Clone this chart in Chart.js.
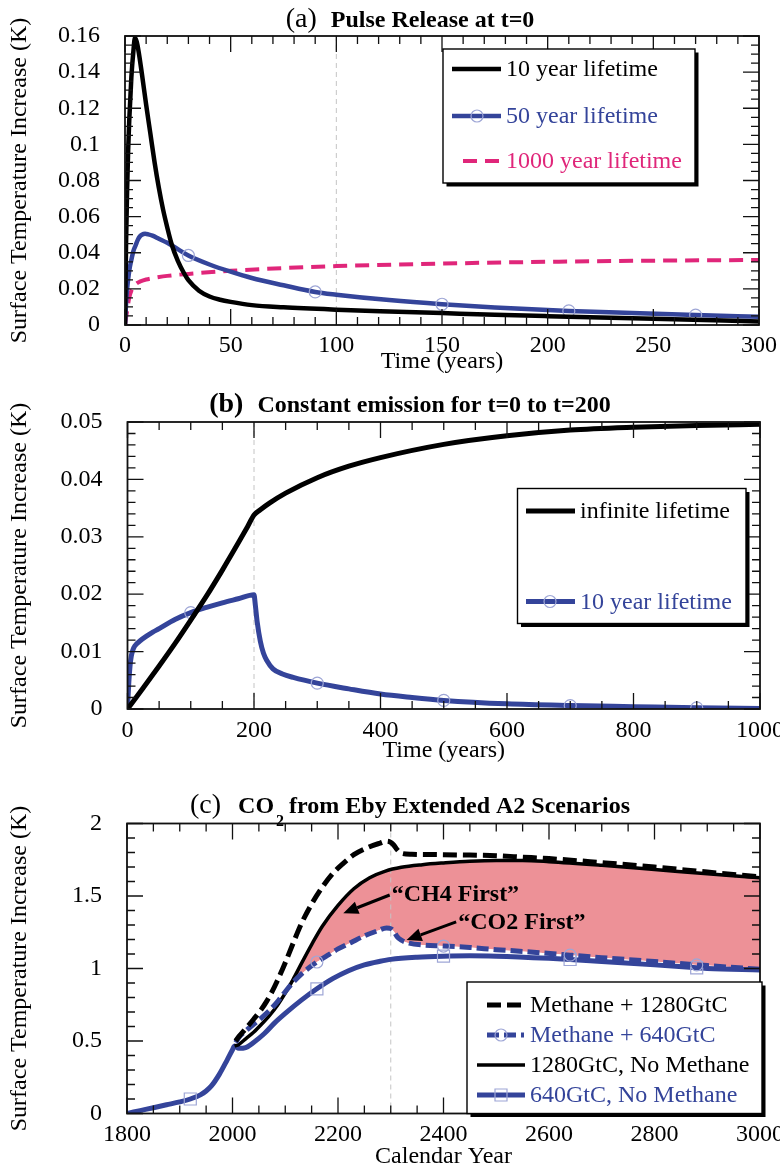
<!DOCTYPE html>
<html><head><meta charset="utf-8">
<script src="https://cdn.jsdelivr.net/npm/chart.js@4.4.1/dist/chart.umd.min.js"></script>
<style>
html,body{margin:0;padding:0;background:#fff;overflow:hidden;width:780px;height:1168px;}
canvas{position:absolute;left:0;}
</style></head><body>
<canvas id="ca" width="780" height="380" style="top:0px"></canvas>
<canvas id="cb" width="780" height="390" style="top:380px"></canvas>
<canvas id="cc" width="780" height="420" style="top:760px"></canvas>
<script>
// ---------- shared text ----------
const yAxisLabel = 'Surface Temperature Increase (K)';

// ---------- panel (a) ----------
const aTag = '(a)';
const aTitle = 'Pulse Release at t=0';
const aXLabel = 'Time (years)';
const aNames = ['10 year lifetime', '50 year lifetime', '1000 year lifetime'];
const a10Time = [0,0.5,1,1.5,2,3,4,4.7,5.5,6.5,8,10,12,14,16,18,20,22,25,28,30,35,40,45,50,60,75,100,125,150,175,200,250,300];
const a10Temp = [0,0.045,0.075,0.097,0.113,0.137,0.152,0.159,0.157,0.151,0.139,0.122,0.106,0.090,0.076,0.064,0.054,0.045,0.0355,0.0285,0.0248,0.0190,0.0158,0.0140,0.0128,0.011,0.0098,0.0085,0.0075,0.0066,0.0057,0.0049,0.0034,0.0020];
const a50Time = [0,0.5,1,2,3,4,5,6,7,8,9.5,11,13,16,20,25,30,40,50,60,75,90,100,125,150,175,210,240,270,300];
const a50Temp = [0,0.012,0.020,0.030,0.036,0.041,0.044,0.047,0.049,0.050,0.0505,0.0502,0.0495,0.0478,0.0455,0.042,0.0385,0.0335,0.0295,0.026,0.022,0.0183,0.0168,0.0138,0.0115,0.0097,0.0078,0.0066,0.0055,0.0045];
const a1000Time = [0,0.5,1,2,3,5,7,10,15,20,30,50,75,100,150,200,250,300];
const a1000Temp = [0,0.004,0.008,0.015,0.019,0.0225,0.024,0.0252,0.0263,0.0272,0.0283,0.0300,0.0315,0.0326,0.0340,0.0350,0.0356,0.0360];
const aMarkTimes = [30,90,150,210,270];
const aXTicks = [0,50,100,150,200,250,300];
const aXTickLabels = ['0','50','100','150','200','250','300'];
const aYTicks = [0,0.02,0.04,0.06,0.08,0.1,0.12,0.14,0.16];
const aYTickLabels = ['0','0.02','0.04','0.06','0.08','0.1','0.12','0.14','0.16'];
const aGuide = 100;

// ---------- panel (b) ----------
const bTag = '(b)';
const bTitle = 'Constant emission for t=0 to t=200';
const bXLabel = 'Time (years)';
const bNames = ['infinite lifetime', '10 year lifetime'];
const bInfTime = [0,25,50,75,100,125,150,175,190,200,210,225,250,300,350,400,500,600,700,800,900,1000];
const bInfTemp = [0,0.0037,0.0075,0.0114,0.0155,0.0197,0.0242,0.0289,0.0318,0.0338,0.0347,0.0359,0.0376,0.0403,0.0423,0.0438,0.0461,0.0476,0.0486,0.0491,0.0494,0.0496];
const bTenTime = [0,2,4,6,8,10,15,20,30,40,50,75,100,125,150,175,200,202,205,210,215,220,230,245,262,300,350,400,450,500,600,700,800,900,1000];
const bTenTemp = [0,0.0045,0.0075,0.0092,0.0101,0.0107,0.0114,0.0119,0.0127,0.0134,0.0140,0.0156,0.0168,0.0177,0.0185,0.0192,0.0199,0.0182,0.0152,0.0118,0.0097,0.0085,0.0070,0.0061,0.0055,0.0045,0.0035,0.0026,0.0020,0.0015,0.0009,0.0006,0.0004,0.0002,0.0001];
const bMarkTimes = [100,300,500,700,900];
const bXTicks = [0,200,400,600,800,1000];
const bXTickLabels = ['0','200','400','600','800','1000'];
const bYTicks = [0,0.01,0.02,0.03,0.04,0.05];
const bYTickLabels = ['0','0.01','0.02','0.03','0.04','0.05'];
const bGuide = 200;

// ---------- panel (c) ----------
const cTag = '(c)';
const cTitleA = 'CO';
const cTitleSub = '2';
const cTitleB = 'from Eby Extended A2 Scenarios';
const cXLabel = 'Calendar Year';
const cNames = ['Methane + 1280GtC', 'Methane + 640GtC', '1280GtC, No Methane', '640GtC, No Methane'];
const cDash1280Year = [2006,2012,2025,2040,2055,2065,2075,2085,2100,2115,2130,2150,2170,2190,2210,2230,2260,2280,2292,2300,2306,2312,2320,2340,2400,2450,2500,2550,2600,2700,2800,2900,3000];
const cDash1280Temp = [0.50,0.53,0.585,0.65,0.72,0.775,0.84,0.915,1.04,1.175,1.305,1.445,1.56,1.655,1.725,1.785,1.84,1.865,1.878,1.87,1.85,1.82,1.795,1.788,1.785,1.782,1.778,1.768,1.758,1.73,1.70,1.665,1.632];
const cDash640Year = [2006,2012,2025,2040,2055,2070,2085,2100,2115,2130,2145,2160,2180,2200,2225,2250,2275,2292,2300,2306,2312,2320,2335,2360,2400,2450,2500,2550,2640,2700,2800,2880,2900,3000];
const cDash640Temp = [0.49,0.525,0.57,0.615,0.66,0.71,0.77,0.84,0.905,0.96,1.005,1.045,1.09,1.135,1.18,1.225,1.26,1.28,1.275,1.255,1.22,1.195,1.175,1.162,1.155,1.145,1.13,1.118,1.092,1.075,1.048,1.025,1.02,0.995];
const cSolid1280Year = [2004,2012,2025,2040,2055,2070,2085,2100,2115,2130,2150,2170,2200,2230,2260,2290,2320,2360,2400,2450,2500,2550,2600,2700,2800,2900,3000];
const cSolid1280Temp = [0.465,0.476,0.515,0.56,0.615,0.675,0.745,0.83,0.925,1.03,1.165,1.29,1.435,1.55,1.626,1.672,1.698,1.716,1.728,1.74,1.745,1.745,1.737,1.712,1.683,1.653,1.625];
const cSolid640Year = [1800,1825,1850,1875,1900,1920,1940,1950,1960,1975,1990,2000,2004,2012,2025,2040,2060,2080,2100,2130,2160,2190,2220,2250,2280,2300,2350,2400,2450,2500,2600,2640,2700,2800,2880,2900,3000];
const cSolid640Temp = [0,0.02,0.04,0.06,0.08,0.10,0.13,0.155,0.19,0.27,0.37,0.44,0.465,0.45,0.455,0.49,0.55,0.625,0.69,0.78,0.86,0.93,0.985,1.025,1.05,1.063,1.078,1.085,1.088,1.085,1.07,1.062,1.048,1.025,1.005,1.0,0.99];
const cCircleYears = [2160,2400,2640,2880];
const cSquareYears = [1920,2160,2400,2640,2880];
const cXTicks = [1800,2000,2200,2400,2600,2800,3000];
const cXTickLabels = ['1800','2000','2200','2400','2600','2800','3000'];
const cYTicks = [0,0.5,1,1.5,2];
const cYTickLabels = ['0','0.5','1','1.5','2'];
const cGuide = 2300;
const cNoteTexts = ['\u201CCH4 First\u201D', '\u201CCO2 First\u201D'];
const cNoteAt = [[2302, 1.505], [2428, 1.312]];        // text anchor (year, K)
const cArrowFrom = [[2298, 1.507], [2424, 1.321]];     // arrow tail (year, K)
const cArrowTo = [[2210, 1.381], [2330, 1.197]];       // arrow tip (year, K)

// ---------- styling ----------
const FAM = '"Liberation Serif", "Times New Roman", serif';
const BLUE = '#34449a', PINK = '#e0267a', MARK = '#9ea6d6', FILL = '#ed9197', INK = '#000';
Chart.defaults.font.family = FAM;
Chart.defaults.color = INK;

const pts = (xs, ys) => xs.map((x, i) => ({x: x, y: ys[i]}));
const markR = (list, r) => (ctx) => (ctx.raw && list.indexOf(ctx.raw.x) >= 0) ? r : 0;

function drawMarker(ctx, style, x, y) {
  ctx.save();
  ctx.strokeStyle = MARK; ctx.lineWidth = 1.2; ctx.setLineDash([]);
  ctx.beginPath();
  if (style === 'rect') ctx.rect(x - 6, y - 6, 12, 12); else ctx.arc(x, y, 6, 0, Math.PI * 2);
  ctx.stroke();
  ctx.restore();
}

function decorPlugin(cfg) {
  return {
    id: 'decor',
    beforeDatasetsDraw(chart) {
      const {ctx, chartArea: ca, scales} = chart;
      const px = scales.x.getPixelForValue(cfg.guide);
      ctx.save();
      ctx.strokeStyle = '#c4c4c4'; ctx.lineWidth = 1; ctx.setLineDash([5, 4]);
      ctx.beginPath(); ctx.moveTo(px, ca.top); ctx.lineTo(px, ca.bottom); ctx.stroke();
      ctx.restore();
    },
    afterDatasetsDraw(chart) {
      const {ctx, chartArea: ca, scales} = chart;
      ctx.save();
      ctx.strokeStyle = '#111'; ctx.lineWidth = 1.3; ctx.setLineDash([]);
      ctx.beginPath();
      const tk = (scale, minor, major, horiz) => {
        const n = Math.round((scale.max - scale.min) / minor);
        for (let i = 0; i <= n; i++) {
          const v = scale.min + i * minor;
          const q = v / major;
          const len = Math.abs(q - Math.round(q)) < 1e-6 ? 16 : 8;
          const p = scale.getPixelForValue(v);
          if (horiz) {
            ctx.moveTo(p, ca.top); ctx.lineTo(p, ca.top + len);
            ctx.moveTo(p, ca.bottom); ctx.lineTo(p, ca.bottom - len);
          } else {
            ctx.moveTo(ca.left, p); ctx.lineTo(ca.left + len, p);
            ctx.moveTo(ca.right, p); ctx.lineTo(ca.right - len, p);
          }
        }
      };
      tk(scales.x, cfg.xMinor, cfg.xMajor, true);
      tk(scales.y, cfg.yMinor, cfg.yMajor, false);
      ctx.stroke();
      ctx.lineWidth = 1.8;
      ctx.strokeRect(ca.left, ca.top, ca.right - ca.left, ca.bottom - ca.top);
      ctx.restore();
    },
    afterDraw(chart) {
      const {ctx, scales} = chart;
      ctx.save();
      // title
      ctx.fillStyle = INK; ctx.textBaseline = 'alphabetic'; ctx.textAlign = 'left';
      let total = 0;
      cfg.title.forEach(p => { ctx.font = p.font; p.w = ctx.measureText(p.text).width; total += (p.gap || 0) + p.w; });
      let x = 410 - total / 2;
      cfg.title.forEach(p => { x += (p.gap || 0); ctx.font = p.font; ctx.fillText(p.text, x, cfg.titleY + (p.dy || 0)); x += p.w; });
      // notes with arrows
      (cfg.notes || []).forEach(n => {
        const tx = scales.x.getPixelForValue(n.at[0]), ty = scales.y.getPixelForValue(n.at[1]);
        const fx = scales.x.getPixelForValue(n.from[0]), fy = scales.y.getPixelForValue(n.from[1]);
        const ex = scales.x.getPixelForValue(n.to[0]), ey = scales.y.getPixelForValue(n.to[1]);
        const ang = Math.atan2(ey - fy, ex - fx);
        const hl = 15, hw = 6.5;
        const bx = ex - hl * Math.cos(ang), by = ey - hl * Math.sin(ang);
        ctx.strokeStyle = INK; ctx.fillStyle = INK; ctx.lineWidth = 3; ctx.setLineDash([]);
        ctx.beginPath(); ctx.moveTo(fx, fy); ctx.lineTo(bx, by); ctx.stroke();
        ctx.beginPath();
        ctx.moveTo(ex, ey);
        ctx.lineTo(bx + hw * Math.sin(ang), by - hw * Math.cos(ang));
        ctx.lineTo(bx - hw * Math.sin(ang), by + hw * Math.cos(ang));
        ctx.closePath(); ctx.fill();
        ctx.font = 'bold 24px ' + FAM; ctx.textBaseline = 'middle';
        ctx.fillText(n.text, tx, ty);
      });
      // legend
      const L = cfg.legend;
      ctx.setLineDash([]);
      ctx.fillStyle = '#000';
      ctx.fillRect(L.x0 + 3.5, L.y0 + 3.5, L.x1 - L.x0, L.y1 - L.y0);
      ctx.fillStyle = '#fff';
      ctx.fillRect(L.x0, L.y0, L.x1 - L.x0, L.y1 - L.y0);
      ctx.strokeStyle = '#000'; ctx.lineWidth = 1.4;
      ctx.strokeRect(L.x0, L.y0, L.x1 - L.x0, L.y1 - L.y0);
      L.rows.forEach(r => {
        const ds = chart.data.datasets[r.ds];
        ctx.save();
        ctx.beginPath(); ctx.rect(r.x0, r.y - 10, r.x1 - r.x0, 20); ctx.clip();
        ctx.strokeStyle = ds.borderColor; ctx.lineWidth = ds.borderWidth;
        ctx.setLineDash(ds.borderDash || []);
        ctx.beginPath(); ctx.moveTo(r.x0, r.y); ctx.lineTo(r.x1, r.y); ctx.stroke();
        ctx.restore();
        if (r.marker) drawMarker(ctx, r.marker, r.mx, r.y);
        ctx.font = '24px ' + FAM; ctx.textBaseline = 'middle'; ctx.textAlign = 'left';
        ctx.fillStyle = r.color;
        ctx.fillText(ds.label, r.tx, r.y + 1);
      });
      ctx.restore();
    }
  };
}

function makeChart(id, cfg) {
  return new Chart(document.getElementById(id), {
    type: 'line',
    data: {datasets: cfg.datasets},
    options: {
      responsive: false, animation: false, events: [],
      layout: {padding: {top: cfg.top, right: cfg.right, left: 0, bottom: 0}},
      plugins: {legend: {display: false}, title: {display: false}, tooltip: {enabled: false},
                filler: {drawTime: 'beforeDatasetsDraw'}},
      elements: {line: {cubicInterpolationMode: 'monotone', fill: false}, point: {radius: 0, hoverRadius: 0}},
      scales: {
        x: {
          type: 'linear', min: cfg.xTicks[0], max: cfg.xTicks[cfg.xTicks.length - 1],
          grid: {display: false, drawTicks: false}, border: {display: false},
          afterBuildTicks: s => { s.ticks = cfg.xTicks.map(v => ({value: v})); },
          afterFit: s => { s.height = cfg.xHeight; s.paddingLeft = 0; s.paddingRight = 0; },
          ticks: {autoSkip: false, maxRotation: 0, minRotation: 0, padding: cfg.xPad, font: {size: 24}, color: INK,
                  callback: (v, i) => cfg.xLabels[i]},
          title: {display: true, text: cfg.xTitle, font: {size: 24}, color: INK, padding: {top: 0, bottom: cfg.xTitlePad}}
        },
        y: {
          type: 'linear', position: 'left', min: cfg.yTicks[0], max: cfg.yTicks[cfg.yTicks.length - 1],
          grid: {display: false, drawTicks: false}, border: {display: false},
          afterBuildTicks: s => { s.ticks = cfg.yTicks.map(v => ({value: v})); },
          afterFit: s => { s.width = cfg.yWidth; s.paddingTop = 0; s.paddingBottom = 0; },
          ticks: {autoSkip: false, padding: 25, font: {size: 24}, color: INK, callback: (v, i) => cfg.yLabels[i]},
          title: {display: true, text: yAxisLabel, font: {size: 24}, color: INK, padding: {top: 5.6, bottom: 0}}
        }
      }
    },
    plugins: [decorPlugin(cfg.decor)]
  });
}

// ---------- chart (a) ----------
makeChart('ca', {
  top: 36, right: 21, yWidth: 125, xHeight: 55, xPad: 6, xTitlePad: 3.6,
  xTicks: aXTicks, xLabels: aXTickLabels, yTicks: aYTicks, yLabels: aYTickLabels, xTitle: aXLabel,
  datasets: [
    {label: aNames[0], data: pts(a10Time, a10Temp), borderColor: INK, borderWidth: 4.5},
    {label: aNames[1], data: pts(a50Time, a50Temp), borderColor: BLUE, borderWidth: 4.5,
     pointRadius: markR(aMarkTimes, 6), pointStyle: 'circle', pointBorderColor: MARK, pointBorderWidth: 1.2, pointBackgroundColor: 'rgba(0,0,0,0)'},
    {label: aNames[2], data: pts(a1000Time, a1000Temp), borderColor: PINK, borderWidth: 4, borderDash: [14, 8]}
  ],
  decor: {
    guide: aGuide, xMinor: 10, xMajor: 50, yMinor: 0.005, yMajor: 0.02, titleY: 27,
    title: [{text: aTag, font: '28px ' + FAM}, {text: aTitle, font: 'bold 24px ' + FAM, gap: 14}],
    legend: {x0: 443, y0: 49, x1: 695, y1: 183, rows: [
      {ds: 0, y: 69, x0: 452, x1: 501, tx: 506, color: INK},
      {ds: 1, y: 116, x0: 452, x1: 501, tx: 506, color: BLUE, marker: 'circle', mx: 477},
      {ds: 2, y: 161, x0: 463, x1: 500, tx: 506, color: PINK}
    ]}
  }
});

// ---------- chart (b) ----------
makeChart('cb', {
  top: 42, right: 20, yWidth: 127.5, xHeight: 61, xPad: 7, xTitlePad: 4.6,
  xTicks: bXTicks, xLabels: bXTickLabels, yTicks: bYTicks, yLabels: bYTickLabels, xTitle: bXLabel,
  datasets: [
    {label: bNames[0], data: pts(bInfTime, bInfTemp), borderColor: INK, borderWidth: 5},
    {label: bNames[1], data: pts(bTenTime, bTenTemp), borderColor: BLUE, borderWidth: 5,
     pointRadius: markR(bMarkTimes, 6), pointStyle: 'circle', pointBorderColor: MARK, pointBorderWidth: 1.2, pointBackgroundColor: 'rgba(0,0,0,0)'}
  ],
  decor: {
    guide: bGuide, xMinor: 50, xMajor: 200, yMinor: 0.002, yMajor: 0.01, titleY: 32,
    title: [{text: bTag, font: 'bold 28px ' + FAM}, {text: bTitle, font: 'bold 24px ' + FAM, gap: 14}],
    legend: {x0: 517.5, y0: 108.5, x1: 746, y1: 243.5, rows: [
      {ds: 0, y: 131, x0: 526, x1: 575, tx: 580, color: INK},
      {ds: 1, y: 221.5, x0: 526, x1: 575, tx: 580, color: BLUE, marker: 'circle', mx: 550}
    ]}
  }
});

// ---------- chart (c) ----------
makeChart('cc', {
  top: 63.5, right: 20, yWidth: 127, xHeight: 66.5, xPad: 7, xTitlePad: 8.9,
  xTicks: cXTicks, xLabels: cXTickLabels, yTicks: cYTicks, yLabels: cYTickLabels, xTitle: cXLabel,
  datasets: [
    {label: cNames[0], data: pts(cDash1280Year, cDash1280Temp), borderColor: INK, borderWidth: 5, borderDash: [14, 6]},
    {label: cNames[1], data: pts(cDash640Year, cDash640Temp), borderColor: BLUE, borderWidth: 5, borderDash: [12, 5],
     pointRadius: markR(cCircleYears, 6), pointStyle: 'circle', pointBorderColor: MARK, pointBorderWidth: 1.2, pointBackgroundColor: 'rgba(0,0,0,0)'},
    {label: cNames[2], data: pts(cSolid1280Year, cSolid1280Temp), borderColor: INK, borderWidth: 3.5,
     fill: {target: 1, above: FILL, below: 'rgba(0,0,0,0)'}},
    {label: cNames[3], data: pts(cSolid640Year, cSolid640Temp), borderColor: BLUE, borderWidth: 5,
     pointRadius: markR(cSquareYears, 8.5), pointStyle: 'rect', pointBorderColor: MARK, pointBorderWidth: 1.2, pointBackgroundColor: 'rgba(0,0,0,0)'}
  ],
  decor: {
    guide: cGuide, xMinor: 50, xMajor: 200, yMinor: 0.1, yMajor: 0.5, titleY: 53,
    title: [{text: cTag, font: '28px ' + FAM}, {text: cTitleA, font: 'bold 24px ' + FAM, gap: 17},
            {text: cTitleSub, font: 'bold 16px ' + FAM, gap: 2, dy: 13}, {text: cTitleB, font: 'bold 24px ' + FAM, gap: 5}],
    notes: cNoteTexts.map((t, i) => ({text: t, at: cNoteAt[i], from: cArrowFrom[i], to: cArrowTo[i]})),
    legend: {x0: 467, y0: 222, x1: 762, y1: 353.5, rows: [
      {ds: 0, y: 245, x0: 487, x1: 524, tx: 530, color: INK},
      {ds: 1, y: 275, x0: 487, x1: 524, tx: 530, color: BLUE, marker: 'circle', mx: 501},
      {ds: 2, y: 305, x0: 477, x1: 525, tx: 530, color: INK},
      {ds: 3, y: 335, x0: 477, x1: 525, tx: 530, color: BLUE, marker: 'rect', mx: 501}
    ]}
  }
});
</script>
</body></html>
